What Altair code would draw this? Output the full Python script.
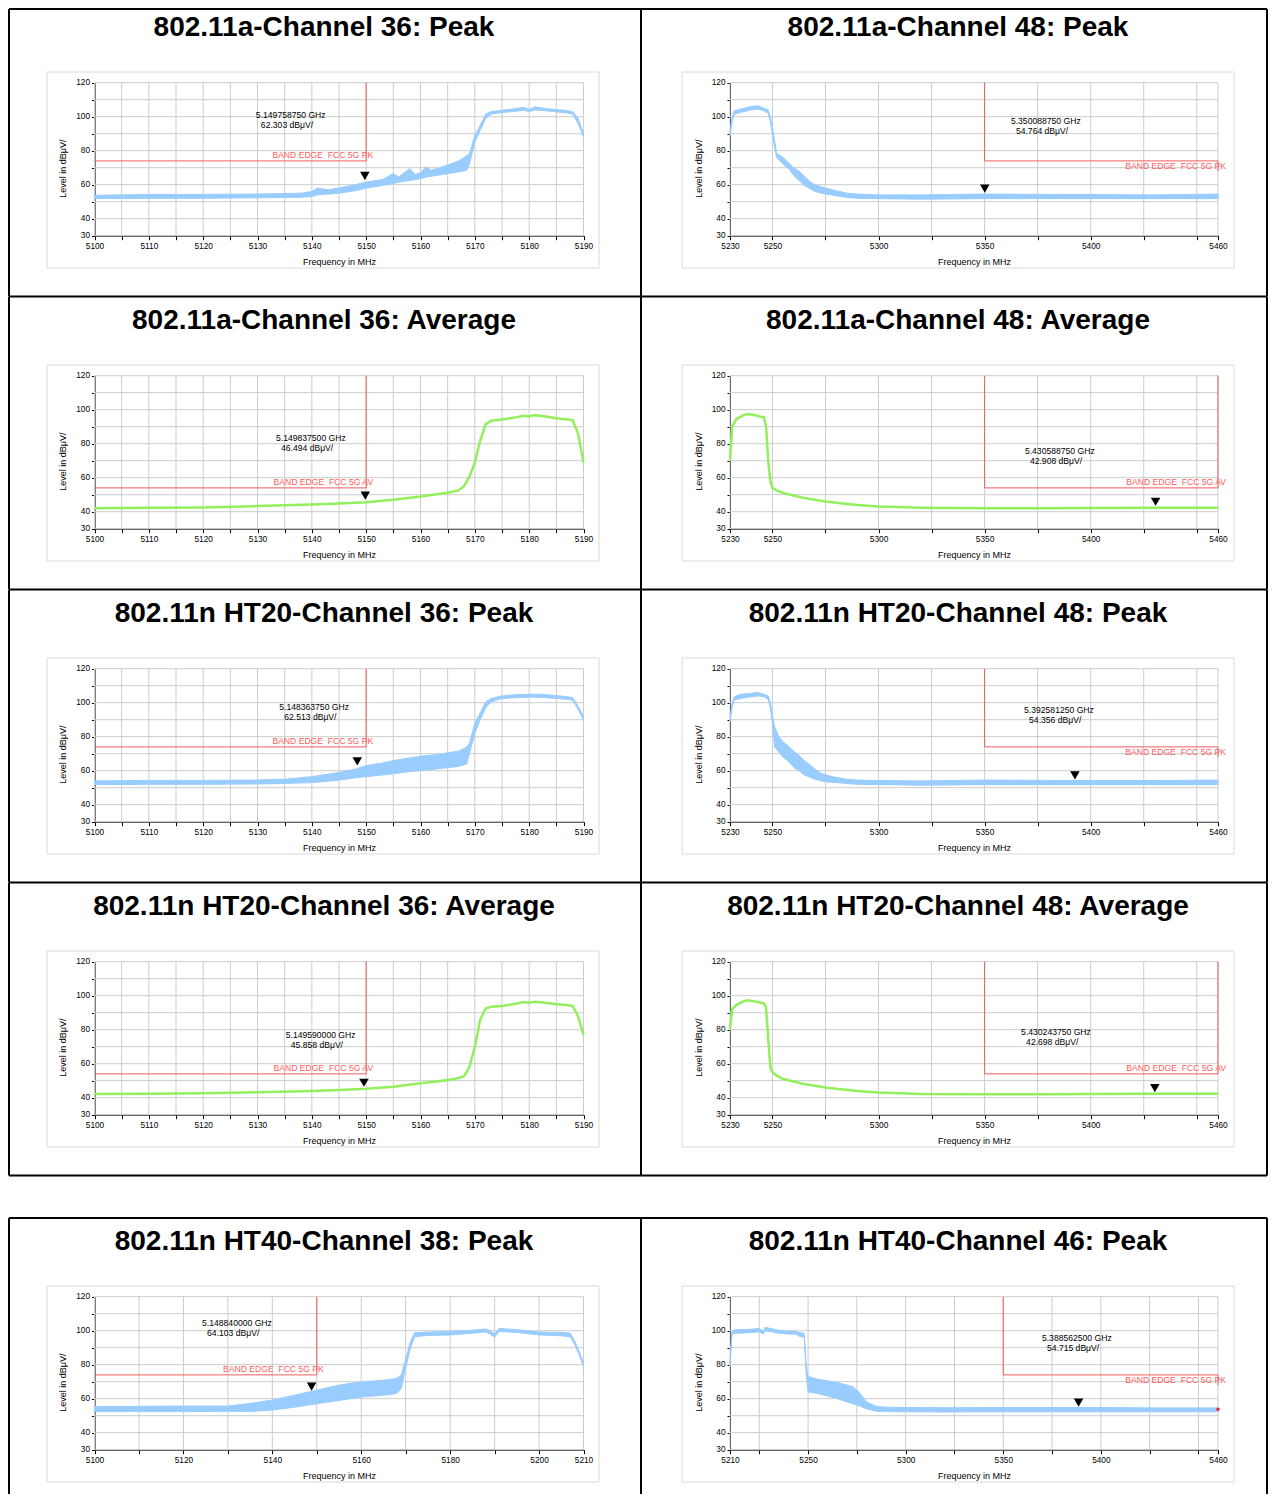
import altair as alt
import pandas as pd

FONT = "Liberation Sans"
BLUE = "#99ccff"
GREEN = "#93ef5c"
RED_LINE = "#f25c5c"
RED_TEXT = "#ff5c5c"
GRID = "#cccccc"
FRAME = "#dadada"

W_LEFT = 632
W_RIGHT = 626
ROW_H = 292.5
GAP = 42

# ---------------- axis ticks / labels ----------------
Y_TICKS = [30, 40, 50, 60, 70, 80, 90, 100, 110, 120]
Y_LABELS = [30, 40, 60, 80, 100, 120]

X_TICKS_A = [5100, 5105, 5110, 5115, 5120, 5125, 5130, 5135, 5140, 5145,
             5150, 5155, 5160, 5165, 5170, 5175, 5180, 5185, 5190]
X_LABELS_A = [5100, 5110, 5120, 5130, 5140, 5150, 5160, 5170, 5180, 5190]
X_TICKS_B = [5230, 5250, 5275, 5300, 5325, 5350, 5375, 5400, 5425, 5450, 5460]
X_LABELS_B = [5230, 5250, 5300, 5350, 5400, 5460]
X_TICKS_C = [5100, 5110, 5120, 5130, 5140, 5150, 5160, 5170, 5180, 5190, 5200, 5210]
X_LABELS_C = [5100, 5120, 5140, 5160, 5180, 5200, 5210]
X_TICKS_D = [5210, 5225, 5250, 5275, 5300, 5325, 5350, 5375, 5400, 5425, 5450, 5460]
X_LABELS_D = [5210, 5250, 5300, 5350, 5400, 5460]

# ---------------- traces ----------------
# 802.11a ch36 peak (band: lower / upper envelope)
A36PK_F = [5100, 5110, 5120, 5130, 5138, 5140, 5141, 5143, 5145, 5148, 5150, 5153, 5155, 5156,
           5158, 5159, 5160, 5161, 5162, 5165, 5167, 5168.5, 5169, 5170, 5171, 5172, 5173, 5175,
           5177, 5179, 5180, 5181, 5183, 5185, 5187, 5188, 5189, 5190]
A36PK_LO = [51.8, 52.0, 52.0, 52.3, 52.6, 53.0, 54.0, 54.5, 55.0, 56.5, 58.0, 59.5, 60.8, 61.5,
            62.5, 63.0, 63.5, 64.5, 65.0, 66.5, 67.5, 68.5, 72.0, 85.0, 92.0, 99.0, 101.5, 102.5,
            103.0, 103.8, 103.0, 104.0, 103.5, 102.8, 102.2, 101.5, 96.0, 88.0]
A36PK_HI = [53.8, 54.2, 54.3, 54.5, 55.0, 56.0, 58.0, 57.0, 58.0, 60.0, 61.5, 63.0, 66.5, 64.5,
            69.5, 66.0, 67.0, 70.5, 68.5, 71.5, 74.0, 77.0, 78.0, 89.0, 95.0, 101.5, 103.0, 103.8,
            104.5, 105.5, 104.2, 105.8, 104.8, 104.2, 103.6, 103.0, 99.0, 90.0]

# 802.11a ch48 peak
A48PK_F = [5230, 5231, 5232, 5235, 5240, 5243, 5246, 5248, 5249, 5250, 5251, 5252, 5255, 5258,
           5260, 5263, 5265, 5268, 5270, 5275, 5280, 5285, 5290, 5300, 5320, 5350, 5380, 5400,
           5430, 5460]
A48PK_LO = [89, 97, 101.5, 102.5, 104, 104.5, 103.5, 102, 97, 90, 82, 76, 72, 69,
            65.5, 62, 59.5, 57.5, 56, 54.5, 53.5, 52.5, 52, 51.8, 51.5, 51.8, 51.8, 51.8,
            51.8, 51.8]
A48PK_HI = [91, 99.5, 103.5, 104.5, 106, 106.4, 105, 104, 100, 94, 86, 78.5, 76, 72.5,
            70, 67.5, 65, 61.5, 60, 58, 56.5, 55, 54.5, 54, 54, 54.5, 54.3, 54.2,
            54.0, 54.5]

# 802.11a ch36 average
A36AV_F = [5100, 5110, 5120, 5130, 5140, 5145, 5150, 5155, 5160, 5163, 5165, 5167, 5168, 5169,
           5170, 5171, 5172, 5173, 5175, 5177, 5179, 5180, 5181, 5183, 5185, 5187, 5188, 5189, 5190]
A36AV_V = [42.1, 42.3, 42.5, 43.3, 44.2, 44.8, 45.6, 47.0, 49.0, 50.3, 51.2, 52.5, 55.0, 60.5,
           69.0, 82.0, 91.5, 93.5, 94.3, 95.2, 96.4, 96.0, 96.8, 96.0, 95.0, 94.3, 93.8, 86.0, 69.0]

# 802.11a ch48 average
A48AV_F = [5230, 5231, 5233, 5236, 5238, 5241, 5244, 5246, 5247, 5248, 5249, 5250, 5252, 5255,
           5260, 5265, 5270, 5275, 5280, 5290, 5300, 5320, 5350, 5380, 5400, 5430, 5460]
A48AV_V = [70, 90, 94.5, 96.5, 97.5, 97, 96, 95.5, 90, 70, 58, 54, 52.5, 51,
           49.5, 48, 47, 46, 45.2, 44, 43, 42.3, 42, 42, 42.2, 42.3, 42.3]

# 802.11n HT20 ch36 peak
N36PK_F = [5100, 5110, 5120, 5130, 5135, 5140, 5143, 5145, 5148, 5150, 5153, 5155, 5158, 5160,
           5163, 5165, 5167, 5168.5, 5169, 5170, 5171, 5172, 5173, 5175, 5178, 5180, 5182, 5185,
           5187, 5188, 5189, 5190]
N36PK_LO = [51.8, 52, 52, 52.2, 52.5, 53, 53.8, 54.5, 55.8, 56.5, 57.5, 58.2, 59.5, 60,
            61, 61.8, 62.5, 64, 70, 82, 90, 97, 100.5, 102.5, 103, 103.3, 103.2, 102.5,
            102, 101.5, 96, 90]
N36PK_HI = [54, 54.3, 54.3, 54.5, 55, 56.5, 58, 59, 61, 63, 64.5, 66, 67.5, 68.5,
            69.5, 70.5, 71.5, 74, 76, 88, 94, 100.5, 102.5, 104, 104.8, 105, 105, 104.2,
            103.5, 103, 98, 92]

# 802.11n HT20 ch48 peak
N48PK_F = [5230, 5231, 5232, 5235, 5240, 5243, 5246, 5248, 5249, 5250, 5251, 5253, 5255, 5258,
           5260, 5263, 5265, 5268, 5270, 5273, 5275, 5280, 5285, 5290, 5300, 5320, 5350, 5380,
           5400, 5430, 5460]
N48PK_LO = [89, 97, 101.5, 102.5, 103.5, 104, 103.5, 102, 97, 88, 74, 71, 68, 65,
            62, 59.5, 57.5, 56, 55, 54, 53.5, 53, 52.5, 52, 51.8, 51.5, 51.8, 51.8,
            51.8, 51.8, 51.8]
N48PK_HI = [91, 99.5, 103.5, 105, 105.5, 106, 105, 104, 100, 93, 86, 80, 77, 74,
            71.5, 68.5, 66, 63, 61, 58.5, 57.5, 56, 55, 54.5, 54.2, 54, 54.5, 54.3,
            54.2, 54.2, 54.5]

# 802.11n HT20 ch36 average
N36AV_F = [5100, 5110, 5120, 5130, 5140, 5145, 5150, 5155, 5160, 5163, 5166, 5168, 5169, 5170,
           5171, 5172, 5173, 5175, 5177, 5179, 5180, 5181, 5183, 5185, 5187, 5188, 5189, 5190]
N36AV_V = [42.2, 42.3, 42.6, 43.2, 44, 44.5, 45.2, 46.5, 48.5, 49.5, 50.8, 52.5, 58, 70,
           86, 92.5, 93.5, 94, 95, 96.3, 95.8, 96.5, 95.8, 95, 94.5, 94, 88, 77]

# 802.11n HT20 ch48 average
N48AV_F = [5230, 5231, 5233, 5236, 5238, 5241, 5244, 5246, 5247, 5248, 5249, 5250, 5252, 5255,
           5260, 5265, 5270, 5275, 5280, 5290, 5300, 5320, 5350, 5380, 5400, 5430, 5460]
N48AV_V = [80, 92, 94.5, 96.5, 97.3, 96.8, 96, 95.5, 93, 75, 58, 55, 53, 51,
           49.5, 48, 47, 46, 45.2, 44, 43, 42.2, 42, 42, 42.2, 42.3, 42.3]

# 802.11n HT40 ch38 peak
W38PK_F = [5100, 5110, 5120, 5130, 5135, 5140, 5145, 5150, 5155, 5160, 5165, 5168, 5169, 5170,
           5171, 5172, 5175, 5180, 5185, 5188, 5189, 5190, 5191, 5195, 5200, 5205, 5207, 5208,
           5209, 5210]
W38PK_LO = [52.4, 52.4, 52.4, 52.6, 52.5, 53.3, 55, 57, 59, 61, 62, 63, 66, 78,
            89, 96.5, 97.2, 97.5, 98.5, 99.3, 98, 96.2, 99.5, 99, 97.5, 97, 96.5, 92,
            86, 79]
W38PK_HI = [55.3, 55.5, 55.7, 55.7, 57.2, 59.2, 62.1, 65, 68, 69.9, 70.9, 71.9, 74, 83,
            93, 98.8, 99.2, 99.6, 100.3, 101, 100, 98, 101.3, 100.6, 99.2, 99, 98.6, 94,
            88, 81]

# 802.11n HT40 ch46 peak
W46PK_F = [5210, 5211, 5212, 5220, 5225, 5227, 5228, 5235, 5240, 5244, 5245, 5248, 5249, 5250,
           5255, 5260, 5265, 5270, 5273, 5276, 5280, 5285, 5290, 5300, 5320, 5350, 5380, 5400,
           5430, 5460]
W46PK_LO = [79, 97.5, 98.5, 98.8, 99.3, 98, 100, 98.5, 98, 98, 97, 96, 75, 64,
            63, 61.5, 60, 58, 57, 56, 54, 52.6, 52.4, 52.3, 52.2, 52.3, 52.3, 52.3,
            52.3, 52.3]
W46PK_HI = [82, 99.5, 100.5, 100.8, 101.3, 99.5, 102, 100.3, 99.8, 99.5, 99, 98.5, 80, 73,
            71.5, 70.5, 69.5, 68, 67, 64, 58, 55.5, 55, 54.8, 54.7, 54.8, 54.8, 54.8,
            54.6, 54.6]

# ---------------- panel descriptions ----------------
PANELS = [
    dict(title="802.11a-Channel 36: Peak", side="L", row=0, xdom=[5100, 5190], xt=X_TICKS_A, xl=X_LABELS_A,
         kind="PK", f=A36PK_F, lo=A36PK_LO, hi=A36PK_HI,
         mk=(5149.75875, 62.303), mt=("5.149758750 GHz", "62.303 dBμV/"), ma=(5129.7, 101.0)),
    dict(title="802.11a-Channel 48: Peak", side="R", row=0, xdom=[5230, 5460], xt=X_TICKS_B, xl=X_LABELS_B,
         kind="PK", f=A48PK_F, lo=A48PK_LO, hi=A48PK_HI,
         mk=(5350.08875, 54.764), mt=("5.350088750 GHz", "54.764 dBμV/"), ma=(5362.4, 97.5)),
    dict(title="802.11a-Channel 36: Average", side="L", row=1, xdom=[5100, 5190], xt=X_TICKS_A, xl=X_LABELS_A,
         kind="AV", f=A36AV_F, v=A36AV_V,
         mk=(5149.8375, 46.494), mt=("5.149837500 GHz", "46.494 dBμV/"), ma=(5133.4, 83.6)),
    dict(title="802.11a-Channel 48: Average", side="R", row=1, xdom=[5230, 5460], xt=X_TICKS_B, xl=X_LABELS_B,
         kind="AV", f=A48AV_F, v=A48AV_V,
         mk=(5430.58875, 42.908), mt=("5.430588750 GHz", "42.908 dBμV/"), ma=(5369.0, 76.0)),
    dict(title="802.11n HT20-Channel 36: Peak", side="L", row=2, xdom=[5100, 5190], xt=X_TICKS_A, xl=X_LABELS_A,
         kind="PK", f=N36PK_F, lo=N36PK_LO, hi=N36PK_HI,
         mk=(5148.36375, 62.513), mt=("5.148363750 GHz", "62.513 dBμV/"), ma=(5134.0, 97.5)),
    dict(title="802.11n HT20-Channel 48: Peak", side="R", row=2, xdom=[5230, 5460], xt=X_TICKS_B, xl=X_LABELS_B,
         kind="PK", f=N48PK_F, lo=N48PK_LO, hi=N48PK_HI,
         mk=(5392.58125, 54.356), mt=("5.392581250 GHz", "54.356 dBμV/"), ma=(5368.6, 95.7)),
    dict(title="802.11n HT20-Channel 36: Average", side="L", row=3, xdom=[5100, 5190], xt=X_TICKS_A, xl=X_LABELS_A,
         kind="AV", f=N36AV_F, v=N36AV_V,
         mk=(5149.59, 45.858), mt=("5.149590000 GHz", "45.858 dBμV/"), ma=(5135.2, 76.6)),
    dict(title="802.11n HT20-Channel 48: Average", side="R", row=3, xdom=[5230, 5460], xt=X_TICKS_B, xl=X_LABELS_B,
         kind="AV", f=N48AV_F, v=N48AV_V,
         mk=(5430.24375, 42.698), mt=("5.430243750 GHz", "42.698 dBμV/"), ma=(5367.2, 78.9)),
    dict(title="802.11n HT40-Channel 38: Peak", side="L", row=4, xdom=[5100, 5210], xt=X_TICKS_C, xl=X_LABELS_C,
         kind="PK", f=W38PK_F, lo=W38PK_LO, hi=W38PK_HI,
         mk=(5148.84, 64.103), mt=("5.148840000 GHz", "64.103 dBμV/"), ma=(5124.2, 104.5)),
    dict(title="802.11n HT40-Channel 46: Peak", side="R", row=4, xdom=[5210, 5460], xt=X_TICKS_D, xl=X_LABELS_D,
         kind="PK", f=W46PK_F, lo=W46PK_LO, hi=W46PK_HI,
         mk=(5388.5625, 54.715), mt=("5.388562500 GHz", "54.715 dBμV/"), ma=(5369.8, 95.7),
         dot=(5460, 53.8)),
]

ONE = alt.Data(values=[{"k": 0}])

# per table-row layout: (border top or -1 for none, content top, cell height, draw bottom border)
ROW_LAYOUT = {
    0: (0, -5, ROW_H - 5, True),
    1: (-1, 0, ROW_H, True),
    2: (-1, 0, ROW_H, True),
    3: (-1, 0, ROW_H, True),
    4: (GAP, GAP, 318, False),
}


def make_cell(p):
    btop, top, H, bottom = ROW_LAYOUT[p["row"]]
    left = p["side"] == "L"
    W = W_LEFT if left else W_RIGHT
    ox = -2 if left else 0
    x0, x1 = (87.5 + ox, 576.5 + ox) if left else (89.0, 577.0)
    fx0, fx1 = (40 + ox, 592 + ox) if left else (41, 593)
    yt, yb = top + 78.7, top + 231.7
    limit = 74 if p["kind"] == "PK" else 54

    xs = alt.Scale(domain=p["xdom"], range=[x0, x1], nice=False, zero=False)
    ys = alt.Scale(domain=[30, 120], range=[yb, yt], nice=False, zero=False)
    xl = ",".join(str(v) for v in p["xl"])
    yl = ",".join(str(v) for v in Y_LABELS)
    common = dict(grid=False, labelFont=FONT, labelFontSize=8.3, labelColor="black",
                  labelOverlap=False, labelFlush=False, tickColor="black", domainColor="black",
                  titleFont=FONT, titleFontSize=9, titleFontWeight="normal", titleColor="black")
    xaxis = alt.Axis(values=p["xt"], format="d", offset=yb - H, title="Frequency in MHz",
                     labelExpr=f"indexof([{xl}], datum.value) >= 0 ? datum.label : ''",
                     tickSize=4, labelPadding=2, titlePadding=7, **common)
    yaxis = alt.Axis(values=Y_TICKS, format="d", offset=-x0, title="Level in dBμV/",
                     labelExpr=f"indexof([{yl}], datum.value) >= 0 ? datum.label : ''",
                     tickSize=3, labelPadding=2, titlePadding=8, titleY=(yt + yb) / 2 + 9,
                     **common)

    def X(f):
        return alt.X(f, type="quantitative", scale=xs, axis=xaxis)

    def Y(f):
        return alt.Y(f, type="quantitative", scale=ys, axis=yaxis)

    layers = []
    # grey chart frame
    layers.append(alt.Chart(ONE).mark_rect(fillOpacity=0, stroke=FRAME, strokeWidth=1).encode(
        x=alt.value(fx0), x2=alt.value(fx1), y=alt.value(top + 68), y2=alt.value(top + 264)))
    # grid
    layers.append(alt.Chart(pd.DataFrame({"v": p["xt"]})).mark_rule(color=GRID, strokeWidth=1).encode(
        x=X("v"), y=alt.value(yt), y2=alt.value(yb)))
    layers.append(alt.Chart(pd.DataFrame({"v": Y_TICKS})).mark_rule(color=GRID, strokeWidth=1).encode(
        y=Y("v"), x=alt.value(x0), x2=alt.value(x1)))

    # trace
    if p["kind"] == "PK":
        df = pd.DataFrame({"f": p["f"], "lo": p["lo"], "hi": p["hi"]})
        layers.append(alt.Chart(df).mark_area(color=BLUE, opacity=1, stroke=BLUE,
                                              strokeWidth=1).encode(
            x=X("f"), y=Y("lo"), y2=alt.Y2("hi")))
    else:
        df = pd.DataFrame({"f": p["f"], "v": p["v"]})
        layers.append(alt.Chart(df).mark_line(color=GREEN, strokeWidth=2.5).encode(
            x=X("f"), y=Y("v")))

    # limit lines
    if left:
        segs = [(p["xdom"][0], 5150, limit, limit), (5150, 5150, limit, 120)]
    else:
        end = 68 if p["kind"] == "PK" else 120
        segs = [(5350, 5350, 120, limit), (5350, 5460, limit, limit), (5460, 5460, limit, end)]
    sdf = pd.DataFrame(segs, columns=["a", "b", "c", "d"])
    layers.append(alt.Chart(sdf).mark_rule(color=RED_LINE, strokeWidth=1).encode(
        x=X("a"), x2=alt.X2("b"), y=Y("c"), y2=alt.Y2("d")))

    # limit label
    lx = 5150 if left else 5460
    below = (not left) and p["kind"] == "PK"
    ldf = pd.DataFrame({"x": [lx], "y": [limit],
                        "t": ["BAND EDGE\u00a0 FCC 5G " + ("PK" if p["kind"] == "PK" else "AV")]})
    layers.append(alt.Chart(ldf).mark_text(
        align="right", baseline="top" if below else "bottom", dx=7 if left else 8,
        dy=1 if below else -1, font=FONT, fontSize=8.6, color=RED_TEXT).encode(
        x=X("x"), y=Y("y"), text="t:N"))

    # marker
    mdf = pd.DataFrame({"f": [p["mk"][0]], "v": [p["mk"][1]]})
    layers.append(alt.Chart(mdf).mark_point(shape="triangle-down", filled=True, color="black",
                                             opacity=1, size=90, yOffset=-5).encode(
        x=X("f"), y=Y("v")))
    tdf = pd.DataFrame({"x": [p["ma"][0]], "y": [p["ma"][1]], "t1": [p["mt"][0]], "t2": [p["mt"][1]]})
    layers.append(alt.Chart(tdf).mark_text(align="left", baseline="middle", font=FONT,
                                            fontSize=8.6, color="black").encode(
        x=X("x"), y=Y("y"), text="t1:N"))
    layers.append(alt.Chart(tdf).mark_text(align="left", baseline="middle", font=FONT,
                                            fontSize=8.6, color="black", dx=5, dy=10).encode(
        x=X("x"), y=Y("y"), text="t2:N"))

    if "dot" in p:
        ddf = pd.DataFrame({"f": [p["dot"][0]], "v": [p["dot"][1]]})
        layers.append(alt.Chart(ddf).mark_point(shape="circle", filled=True, color="#ff2020",
                                                 opacity=1, size=12).encode(x=X("f"), y=Y("v")))

    # cell title
    layers.append(alt.Chart(ONE).mark_text(font=FONT, fontSize=28, fontWeight="bold", color="black",
                                            align="center", baseline="middle").encode(
        x=alt.value(317 + ox), y=alt.value(top + 24), text=alt.value(p["title"])))

    # table borders
    vtop = max(btop, 0)
    borders = [(W, W, vtop, H)]
    if bottom:
        borders.append((0, W, H, H))
    if left:
        borders.append((0, 0, vtop, H))
    if btop >= 0:
        borders.append((0, W, btop, btop))
    for a, b, c, d in borders:
        layers.append(alt.Chart(ONE).mark_rule(color="black", strokeWidth=2).encode(
            x=alt.value(a), x2=alt.value(b), y=alt.value(c), y2=alt.value(d)))

    return alt.layer(*layers).properties(width=W, height=H)


cells = [make_cell(p) for p in PANELS]
chart = alt.concat(*cells, columns=2, spacing=0, bounds="flush", align="each").properties(
    padding=0).configure_view(strokeWidth=0)

chart.save("out.html", embed_options={"renderer": "svg", "actions": False})
